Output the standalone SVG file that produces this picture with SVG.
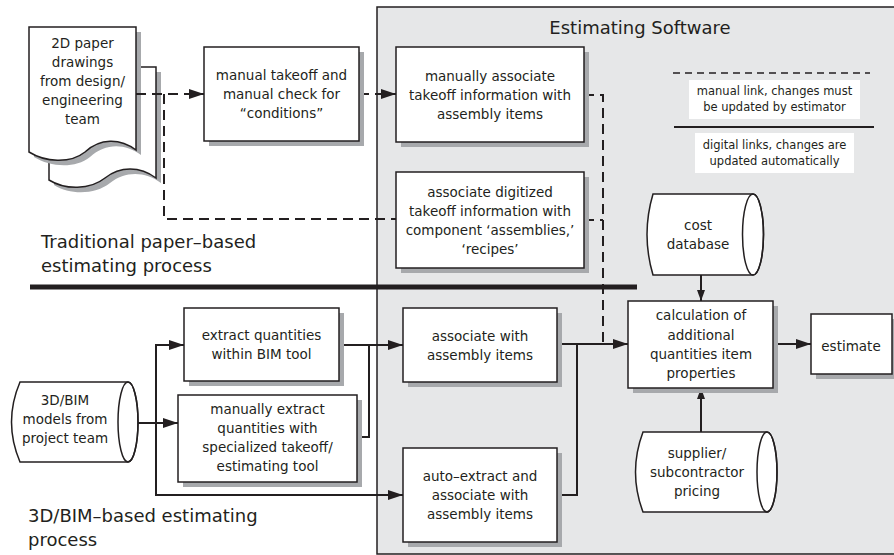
<svg xmlns="http://www.w3.org/2000/svg" width="894" height="555" viewBox="0 0 894 555">
<defs>
<style>
text{font-family:"DejaVu Sans","Liberation Sans",sans-serif;fill:#231f20;text-anchor:middle}
.t{font-size:13.5px}
.lg{font-size:11.5px}
.big{font-size:18px;text-anchor:start}
.ttl{font-size:18px}
.box{fill:#fff;stroke:#231f20;stroke-width:1.5}
.sh{fill:#a7a9ac;stroke:none}
.c{fill:none;stroke:#231f20;stroke-width:2}
.d{fill:none;stroke:#231f20;stroke-width:2;stroke-dasharray:10,6}
</style>
<marker id="ah" markerUnits="userSpaceOnUse" markerWidth="15" markerHeight="10" refX="15" refY="5" orient="auto"><path d="M0,0 L15,5 L0,10 z" fill="#231f20"/></marker>
<marker id="as" markerUnits="userSpaceOnUse" markerWidth="11" markerHeight="8" refX="11" refY="4" orient="auto"><path d="M0,0 L11,4 L0,8 z" fill="#231f20"/></marker>
</defs>
<rect x="0" y="0" width="894" height="555" fill="#fff"/>
<rect id="panel" x="377" y="7" width="530" height="547" fill="#e6e7e8" stroke="#231f20" stroke-width="1.5"/>
<text class="ttl" x="640" y="34">Estimating Software</text>

<g id="legend">
<line x1="673" y1="73" x2="870" y2="73" stroke="#231f20" stroke-width="1.5" stroke-dasharray="7,5"/>
<rect x="689" y="80" width="171" height="39" fill="#fff"/>
<text class="lg" x="774.5" y="95">manual link, changes must</text>
<text class="lg" x="774.5" y="111">be updated by estimator</text>
<line x1="674" y1="127" x2="874" y2="127" stroke="#231f20" stroke-width="2"/>
<rect x="695" y="133" width="159" height="40" fill="#fff"/>
<text class="lg" x="774.5" y="149">digital links, changes are</text>
<text class="lg" x="774.5" y="165">updated automatically</text>
</g>

<line id="divider" x1="30" y1="287" x2="637" y2="287" stroke="#231f20" stroke-width="5"/>
<text class="big" x="41" y="248">Traditional paper–based</text>
<text class="big" x="41" y="272">estimating process</text>
<text class="big" x="28" y="522">3D/BIM–based estimating</text>
<text class="big" x="28" y="546">process</text>

<g id="paper-drawings">
<path class="sh" d="M54,72 H161 V183 C145,171 125,171 110,183 C95,195 70,195 54,185 Z"/>
<path class="box" d="M49,67 H156 V178 C140,166 120,166 105,178 C90,190 65,190 49,180 Z"/>
<path class="sh" d="M34,32 H141 V155 C125,143 105,143 90,157 C75,169 50,167 34,157 Z"/>
<path class="box" d="M29,27 H136 V150 C120,138 100,138 85,152 C70,164 45,162 29,152 Z"/>
<text class="t" x="82.5" y="48">2D paper</text>
<text class="t" x="82.5" y="67">drawings</text>
<text class="t" x="82.5" y="86">from design/</text>
<text class="t" x="82.5" y="105">engineering</text>
<text class="t" x="82.5" y="124">team</text>
</g>

<g id="connectors">
<path class="d" d="M136,94 H204" marker-end="url(#ah)"/>
<path class="d" d="M164,94 V219 H396"/>
<path class="d" d="M359,94 H396" marker-end="url(#ah)"/>
<path class="d" d="M584,95 H603 V344"/>
<path class="d" d="M584,220 H603"/>
<path class="c" d="M138,423 H178" marker-end="url(#ah)"/>
<path class="c" d="M184,345 H156 V495 H403" marker-end="url(#ah)"/>
<path class="c" d="M156,345 H184" marker-end="url(#ah)"/>
<path class="c" d="M339,345 H403" marker-end="url(#ah)"/>
<path class="c" d="M357,437 H369 V345"/>
<path class="c" d="M557,344 H628" marker-end="url(#ah)"/>
<path class="c" d="M557,495 H577 V344"/>
<path class="c" d="M773,344 H811" marker-end="url(#ah)"/>
<path class="c" d="M701,275 V301" stroke-width="1.5" marker-end="url(#as)"/>
<path class="c" d="M701,432 V388" stroke-width="1.5" marker-end="url(#as)"/>
</g>

<g id="manual-takeoff">
<rect class="sh" x="209" y="52" width="155" height="94"/>
<rect class="box" x="204" y="47" width="155" height="94"/>
<text class="t" x="281.5" y="80">manual takeoff and</text>
<text class="t" x="281.5" y="99">manual check for</text>
<text class="t" x="281.5" y="118">“conditions”</text>
</g>

<g id="manually-associate">
<rect class="sh" x="401" y="52" width="188" height="95"/>
<rect class="box" x="396" y="47" width="188" height="95"/>
<text class="t" x="490" y="81">manually associate</text>
<text class="t" x="490" y="100">takeoff information with</text>
<text class="t" x="490" y="119">assembly items</text>
</g>

<g id="associate-digitized">
<rect class="sh" x="401" y="177" width="188" height="96"/>
<rect class="box" x="396" y="172" width="188" height="96"/>
<text class="t" x="490" y="196.5">associate digitized</text>
<text class="t" x="490" y="215.5">takeoff information with</text>
<text class="t" x="490" y="234.5">component ‘assemblies,’</text>
<text class="t" x="490" y="253.5">‘recipes’</text>
</g>

<g id="cost-database">
<path class="box" d="M653,194 H753 A10.5,40.5 0 0 1 753,275 H653 Q641,234.5 653,194 Z"/>
<ellipse cx="753" cy="234.5" rx="10.5" ry="40.5" fill="none" stroke="#231f20" stroke-width="1.5"/>
<text class="t" x="698" y="230">cost</text>
<text class="t" x="698" y="249">database</text>
</g>

<g id="calculation">
<rect class="sh" x="633" y="306" width="145" height="87"/>
<rect class="box" x="628" y="301" width="145" height="87"/>
<text class="t" x="701" y="320">calculation of</text>
<text class="t" x="701" y="339.5">additional</text>
<text class="t" x="701" y="359">quantities item</text>
<text class="t" x="701" y="378">properties</text>
</g>

<g id="estimate">
<rect class="sh" x="816" y="319" width="81" height="60"/>
<rect class="box" x="811" y="314" width="81" height="60"/>
<text class="t" x="851" y="351">estimate</text>
</g>

<g id="supplier-pricing">
<path class="box" d="M643,432 H767 A10,40 0 0 1 767,512 H643 Q628,472 643,432 Z"/>
<ellipse cx="767" cy="472" rx="10" ry="40" fill="none" stroke="#231f20" stroke-width="1.5"/>
<text class="t" x="697" y="458">supplier/</text>
<text class="t" x="697" y="477">subcontractor</text>
<text class="t" x="697" y="496">pricing</text>
</g>

<g id="associate-with">
<rect class="sh" x="408" y="313" width="154" height="74"/>
<rect class="box" x="403" y="308" width="154" height="74"/>
<text class="t" x="480" y="341">associate with</text>
<text class="t" x="480" y="360">assembly items</text>
</g>

<g id="auto-extract">
<rect class="sh" x="408" y="453" width="154" height="94"/>
<rect class="box" x="403" y="448" width="154" height="94"/>
<text class="t" x="480" y="481">auto–extract and</text>
<text class="t" x="480" y="500">associate with</text>
<text class="t" x="480" y="519">assembly items</text>
</g>

<g id="extract-quantities">
<rect class="sh" x="189" y="313" width="155" height="73"/>
<rect class="box" x="184" y="308" width="155" height="73"/>
<text class="t" x="261.5" y="340">extract quantities</text>
<text class="t" x="261.5" y="359">within BIM tool</text>
</g>

<g id="manually-extract">
<rect class="sh" x="183" y="400" width="179" height="87"/>
<rect class="box" x="178" y="395" width="179" height="87"/>
<text class="t" x="267.5" y="414">manually extract</text>
<text class="t" x="267.5" y="433">quantities with</text>
<text class="t" x="267.5" y="452">specialized takeoff/</text>
<text class="t" x="267.5" y="471">estimating tool</text>
</g>

<g id="bim-models">
<path class="box" d="M20,382 H128 A10,40 0 0 1 128,462 H20 Q3,422 20,382 Z"/>
<ellipse cx="128" cy="422" rx="10" ry="40" fill="none" stroke="#231f20" stroke-width="1.5"/>
<text class="t" x="65" y="405">3D/BIM</text>
<text class="t" x="65" y="424">models from</text>
<text class="t" x="65" y="443">project team</text>
</g>
</svg>
